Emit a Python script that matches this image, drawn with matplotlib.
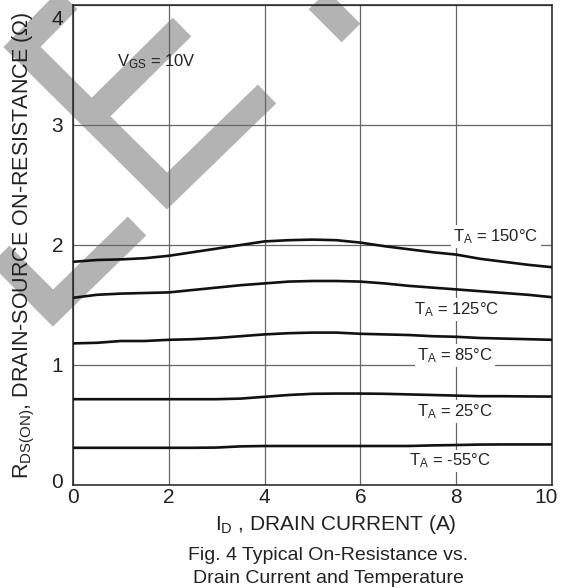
import matplotlib
matplotlib.use("Agg")
import matplotlib.pyplot as plt
from matplotlib.lines import Line2D
from matplotlib.transforms import ScaledTranslation

plt.rcParams['font.family'] = ['Liberation Sans', 'DejaVu Sans']
plt.rcParams['mathtext.default'] = 'regular'

# drain current grid (A)
i_d = [0, 0.5, 1, 1.5, 2, 2.5, 3, 3.5, 4, 4.5, 5, 5.5, 6, 6.5, 7, 7.5, 8, 8.5, 9, 9.5, 10]

# on-resistance (ohm) per ambient temperature
r_150 = [1.86, 1.875, 1.88, 1.89, 1.91, 1.94, 1.97, 2.00, 2.03, 2.04, 2.045, 2.04, 2.02, 1.99, 1.965, 1.94, 1.92, 1.885, 1.86, 1.835, 1.815]
r_125 = [1.56, 1.585, 1.595, 1.60, 1.605, 1.625, 1.645, 1.665, 1.68, 1.695, 1.70, 1.70, 1.695, 1.68, 1.66, 1.645, 1.63, 1.615, 1.60, 1.585, 1.565]
r_85 = [1.18, 1.185, 1.20, 1.20, 1.21, 1.215, 1.225, 1.24, 1.255, 1.265, 1.27, 1.27, 1.26, 1.255, 1.25, 1.24, 1.235, 1.225, 1.22, 1.215, 1.21]
r_25 = [0.715, 0.715, 0.715, 0.715, 0.715, 0.715, 0.715, 0.72, 0.735, 0.75, 0.76, 0.762, 0.762, 0.76, 0.755, 0.75, 0.745, 0.74, 0.74, 0.738, 0.737]
r_m55 = [0.31, 0.31, 0.31, 0.31, 0.31, 0.31, 0.312, 0.322, 0.325, 0.325, 0.325, 0.325, 0.325, 0.325, 0.325, 0.33, 0.333, 0.337, 0.338, 0.338, 0.338]

curves = [r_150, r_125, r_85, r_25, r_m55]
labels = ['T$_{A}$ = 150°C', 'T$_{A}$ = 125°C', 'T$_{A}$ = 85°C', 'T$_{A}$ = 25°C', 'T$_{A}$ = -55°C']
label_pos = [(8.83, 2.07), (8.0, 1.46), (7.97, 1.08), (7.97, 0.61), (7.87, 0.20)]

x_ticks = [0, 2, 4, 6, 8, 10]
y_ticks = [0, 1, 2, 3, 4]

W, H = 566, 588
fig = plt.figure(figsize=(W / 100, H / 100), dpi=100)
ax = fig.add_axes([73 / W, 1 - 485 / H, (552 - 73) / W, (485 - 5) / H])
ax.patch.set_visible(False)

# watermark check marks, in figure pixels (y from top)
gray = '#b3b3b3'
marks = [
    [(68, 0), (22, 47), (167, 191), (267, 94)],
    [(182, 27), (92, 116)],
    [(318, 0), (351, 33)],
    [(0, 255), (53, 308), (137, 226)],
]
for m in marks:
    xs = [p[0] / W for p in m]
    ys = [1 - p[1] / H for p in m]
    fig.add_artist(Line2D(xs, ys, color=gray, lw=19, solid_capstyle='butt',
                          solid_joinstyle='miter', transform=fig.transFigure, zorder=-5))

for r in curves:
    ax.plot(i_d, r, color='#111111', lw=1.9, zorder=3)

for txt, (x, y) in zip(labels, label_pos):
    ax.text(x, y, txt, fontsize=12, ha='center', va='center', color='#222222', zorder=4,
            bbox=dict(facecolor='white', edgecolor='none', pad=1.5))

ax.text(0.92, 3.53, 'V$_{GS}$ = 10V', fontsize=12, ha='left', va='center', color='#222222')

ax.set_xlim(0, 10)
ax.set_ylim(0, 4)
ax.set_xticks(x_ticks)
ax.set_yticks(y_ticks)
ax.tick_params(length=0, labelsize=15, colors='#222222', pad=2)
ax.tick_params(axis='y', pad=7)
ax.grid(True, color='#666666', lw=0.9)
ax.set_axisbelow(True)
for s in ax.spines.values():
    s.set_color('#222222')
    s.set_linewidth(1.1)

# nudge end tick labels like the original sheet
ylab = ax.get_yticklabels()
ylab[-1].set_transform(ylab[-1].get_transform() + ScaledTranslation(0, -9 / 72, fig.dpi_scale_trans))
ylab[0].set_transform(ylab[0].get_transform() + ScaledTranslation(0, 3 / 72, fig.dpi_scale_trans))
xlab = ax.get_xticklabels()
xlab[-1].set_transform(xlab[-1].get_transform() + ScaledTranslation(-4 / 72, 0, fig.dpi_scale_trans))

fig.text(336 / W, 1 - 530 / H, 'I$_{D}$ , DRAIN CURRENT (A)', fontsize=15,
         ha='center', va='baseline', color='#222222')
fig.text(24 / W, 1 - 245 / H, 'R$_{DS(ON)}$, DRAIN-SOURCE ON-RESISTANCE (Ω)', fontsize=15.5,
         ha='center', va='center', rotation=90, color='#222222')
fig.text(328 / W, 1 - 560 / H, 'Fig. 4 Typical On-Resistance vs.', fontsize=14,
         ha='center', va='baseline', color='#222222')
fig.text(328 / W, 1 - 583 / H, 'Drain Current and Temperature', fontsize=14,
         ha='center', va='baseline', color='#222222')

fig.savefig('out.png', dpi=100)
